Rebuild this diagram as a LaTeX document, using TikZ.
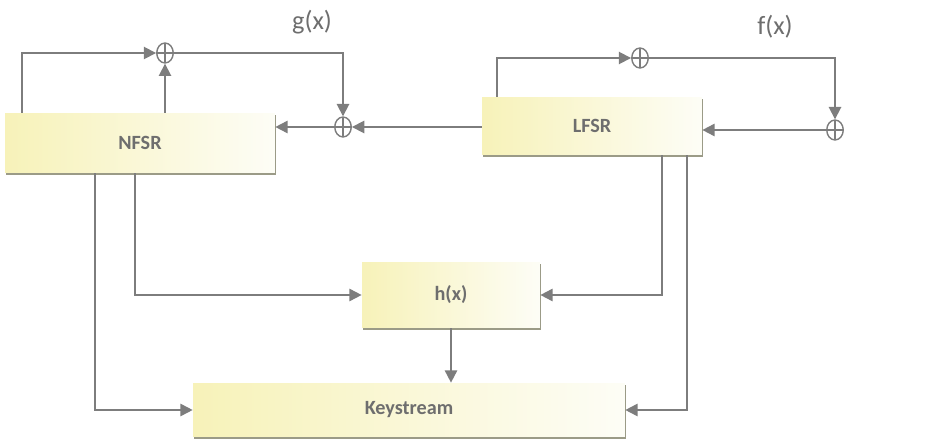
\documentclass[tikz,border=0pt]{standalone}
\usepackage{fontspec}
\setmainfont{Carlito}
\usetikzlibrary{shapes,arrows,arrows.meta,shadows}

\definecolor{linegray}{RGB}{125,125,125}
\definecolor{textgray}{RGB}{110,110,110}
\definecolor{boxyellow}{RGB}{247,242,185}
\definecolor{boxwhite}{RGB}{253,253,246}
\definecolor{shadowgray}{RGB}{155,155,135}

\begin{document}
\begin{tikzpicture}[x=0.02cm, y=-0.02cm, >={Triangle[length=7pt,width=7pt]}]
  \tikzstyle{register}=[rectangle, left color=boxyellow, right color=boxwhite, drop shadow={shadow xshift=0.8pt, shadow yshift=-1.2pt, fill=shadowgray, opacity=1}, text=textgray, font=\fontsize{11.5}{13}\selectfont\bfseries]
  \tikzstyle{xor}=[ellipse, draw=linegray, line width=0.8pt, minimum width=0.33cm, minimum height=0.4cm, inner sep=0pt, path picture={\draw[linegray, line width=0.8pt] (path picture bounding box.north) -- (path picture bounding box.south) (path picture bounding box.west) -- (path picture bounding box.east);}]
  \tikzstyle{wire}=[draw=linegray, color=linegray, line width=1pt]
  \tikzstyle{poly}=[text=textgray, font=\fontsize{15}{17}\selectfont]
  \useasboundingbox (0,0) rectangle (927,446);

  % registers and output
  \node[register, minimum width=5.4cm, minimum height=1.2cm] (nfsr) at (140,143) {NFSR};
  \node[register, minimum width=4.4cm, minimum height=1.16cm] (lfsr) at (592,126) {LFSR};
  \node[register, minimum width=3.56cm, minimum height=1.32cm] (hx) at (451,295) {h(x)};
  \node[register, minimum width=8.64cm, minimum height=1.08cm] (keys) at (409,410) {Keystream};

  % xor gates
  \node[xor] (gtop) at (165,53) {};
  \node[xor] (gin) at (343,127) {};
  \node[xor] (ftop) at (640,58) {};
  \node[xor] (fin) at (835,130) {};

  \node[poly] (glabel) at (312,22) {g(x)};
  \node[poly] (flabel) at (775,27) {f(x)};

  % feedback of the NFSR
  \draw[wire,->] ([xshift=0.34cm]nfsr.north west) |- (gtop.west);
  \draw[wire,->] (nfsr.north -| gtop) -- (gtop.south);
  \draw[wire,->] (gtop.east) -| (gin.north);
  \draw[wire,->] (gin.west) -- (nfsr.east |- gin);
  \draw[wire,->] (lfsr.west |- gin) -- (gin.east);

  % feedback of the LFSR
  \draw[wire,->] ([xshift=0.3cm]lfsr.north west) |- (ftop.west);
  \draw[wire,->] (ftop.east) -| (fin.north);
  \draw[wire,->] (fin.west) -- (lfsr.east |- fin);

  % filter and output
  \draw[wire,->] ([xshift=1.8cm]nfsr.south west) |- (keys.west);
  \draw[wire,->] ([xshift=2.6cm]nfsr.south west) |- (hx.west);
  \draw[wire,->] (hx.south) -- (keys.north -| hx.south);
  \draw[wire,->] ([xshift=-0.8cm]lfsr.south east) |- (hx.east);
  \draw[wire,->] ([xshift=-0.3cm]lfsr.south east) |- (keys.east);
\end{tikzpicture}
\end{document}
